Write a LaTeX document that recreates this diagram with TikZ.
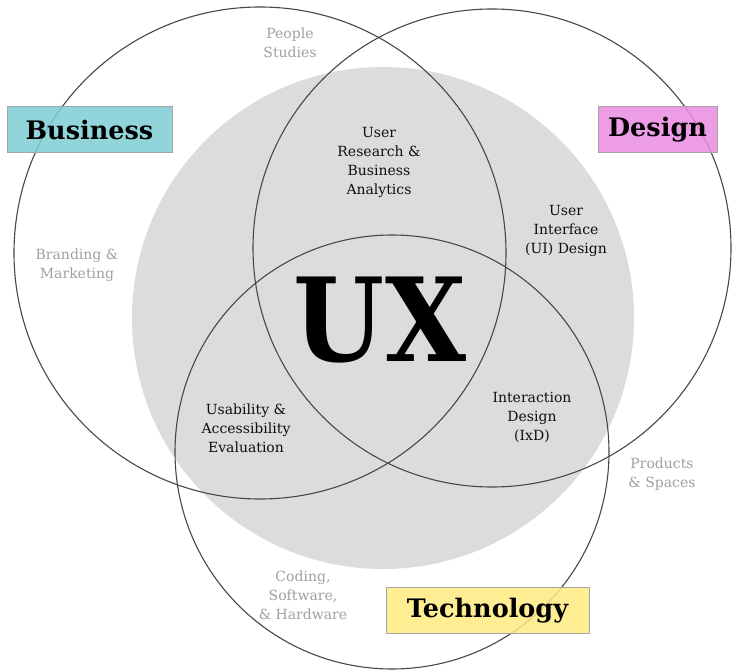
\documentclass[tikz,border=0pt]{standalone}
\usepackage{fontspec}
\setmainfont{DejaVu Serif}
\begin{document}
\begin{tikzpicture}[x=1pt,y=-1pt]
\definecolor{ringgray}{RGB}{72,72,72}
\definecolor{uxfill}{RGB}{219,220,222}
\definecolor{softtxt}{RGB}{160,160,160}
\definecolor{maintxt}{RGB}{15,15,15}
\definecolor{busfill}{RGB}{126,206,212}
\definecolor{desfill}{RGB}{234,140,226}
\definecolor{tecfill}{RGB}{254,234,128}
\definecolor{boxline}{RGB}{165,165,165}
\tikzset{
  ring/.style={draw=ringgray,line width=1.1pt},
  areatext/.style={text=maintxt,align=center,font=\fontsize{14}{19}\selectfont},
  softtext/.style={text=softtxt,align=center,font=\fontsize{14}{19}\selectfont},
  titlebox/.style={draw=boxline,line width=1pt,fill opacity=0.85,text opacity=1,
     minimum height=46pt,inner sep=0pt,text=black,font=\fontsize{25.5}{28}\selectfont\bfseries},
}
\useasboundingbox (0,0) rectangle (734,671);
\fill[white] (0,0) rectangle (734,671);
% gray UX disc
\fill[uxfill] (383,318) circle[radius=251pt];
% rings
\draw[ring] (260,253) circle[radius=246pt];
\draw[ring] (492,248) circle[radius=239pt];
\draw[ring] (392,452) circle[radius=217pt];
% title boxes
\node[titlebox,fill=busfill,minimum width=165pt] (bus) at (89.5,130) {Business};
\node[titlebox,fill=desfill,minimum width=119pt] (des) at (657.5,130) {Design};
\node[titlebox,fill=tecfill,minimum width=203pt] (tec) at (487.5,610.5) {Technology};
% UX
\node[text=black,font=\fontsize{116}{120}\selectfont\bfseries,xscale=0.9,transform shape,inner sep=0pt] (ux) at (380,320) {UX};
% area labels
\node[areatext] (urba) at (379,162.5) {User\\Research \&\\Business\\Analytics};
\node[areatext] (uid) at (566,231) {User\\Interface\\(UI) Design};
\node[areatext] (uae) at (246,428) {Usability \&\\Accessibility\\Evaluation};
\node[areatext] (ixd) at (532,417) {Interaction\\Design\\(IxD)};
% outer labels
\node[softtext] (ps) at (290,43) {People\\Studies};
\node[softtext] (bm) at (77,265.5) {Branding \&\\Marketing};
\node[softtext] (prs) at (662,474) {Products\\\& Spaces};
\node[softtext] (csh) at (303,595) {Coding,\\Software,\\\& Hardware};
\end{tikzpicture}
\end{document}
